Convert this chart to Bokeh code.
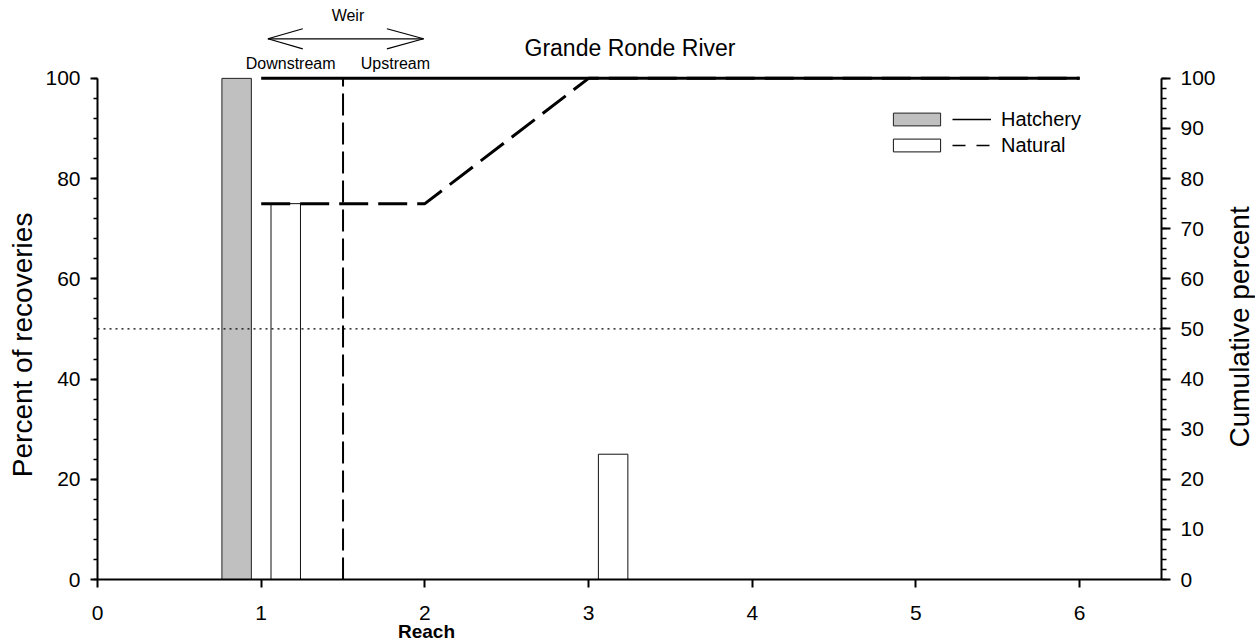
import math
from bokeh.plotting import figure
from bokeh.layouts import row, column
from bokeh.models import (Range1d, LinearAxis, SingleIntervalTicker, Span, Label,
                          Arrow, Legend, LegendItem, ColumnDataSource)
from bokeh.core.properties import value
from bokeh.transform import dodge
from bokeh.embed import file_html
from bokeh.resources import INLINE

# ---- data ----
reach = [1, 2, 3, 4, 5, 6]
hatchery_pct = [100, 0, 0, 0, 0, 0]
natural_pct = [75, 0, 25, 0, 0, 0]
hatchery_cum = [100, 100, 100, 100, 100, 100]
natural_cum = [75, 75, 100, 100, 100, 100]
weir_reach = [1.5]
median_line = 50
series_names = ["Hatchery", "Natural"]
title_text = "Grande Ronde River"
x_label = "Reach"
y_label_left = "Percent of recoveries"
y_label_right = "Cumulative percent"

FONT = "Liberation Sans"
W, H = 1255, 644
LW, RW, BH = 42, 37, 22          # side / bottom label strips
MW, MH = W - LW - RW, H - BH     # main figure size
FRAME_BOTTOM = 580               # canvas y of value 0
PX_PER_UNIT = 5.02

# main figure: frame left=96, right=1163, top=0 (extended range), bottom=580
Y_TOP = 100 + 78 / PX_PER_UNIT

p = figure(width=MW, height=MH, x_range=Range1d(0, 6.5), y_range=Range1d(0, Y_TOP),
           output_backend="svg", toolbar_location=None, title=None,
           min_border_left=96 - LW, min_border_right=(LW + MW) - 1163,
           min_border_top=0, min_border_bottom=MH - FRAME_BOTTOM)
p.extra_y_ranges = {"cum": Range1d(0, Y_TOP)}
p.outline_line_color = None
p.grid.visible = False
p.background_fill_color = "white"
p.border_fill_color = "white"

# ---- bars ----
h_src = ColumnDataSource(dict(x=[r for r, v in zip(reach, hatchery_pct) if v > 0],
                              top=[v for v in hatchery_pct if v > 0]))
n_src = ColumnDataSource(dict(x=[r for r, v in zip(reach, natural_pct) if v > 0],
                              top=[v for v in natural_pct if v > 0]))
bars_h = p.vbar(x=dodge("x", -0.15), top="top", width=0.18, source=h_src,
                fill_color="#c0c0c0", line_color="#222222", line_width=1)
bars_n = p.vbar(x=dodge("x", 0.15), top="top", width=0.18, source=n_src,
                fill_color="white", line_color="#111111", line_width=1)

# ---- reference lines ----
p.add_layout(Span(location=median_line, dimension="width", line_color="black",
                  line_width=1.3, line_dash="2 4"))
p.segment(x0=weir_reach, y0=[0], x1=weir_reach, y1=[100], line_color="black",
          line_width=2, line_dash="22 7")

# ---- cumulative lines ----
p.line(reach, natural_cum, line_color="black", line_width=3, line_dash="29 10",
       y_range_name="cum")
p.line(reach, hatchery_cum, line_color="black", line_width=3, y_range_name="cum")

# legend proxies (no visible data)
nan = float("nan")
leg_h = p.line([nan], [nan], line_color="black", line_width=1.5)
leg_n = p.line([nan], [nan], line_color="black", line_width=1.5, line_dash="13 11")

# ---- axes ----
xa = p.xaxis[0]
xa.ticker = SingleIntervalTicker(interval=1, num_minor_ticks=0)
xa.major_tick_out = 8
xa.major_tick_in = 0
xa.major_label_standoff = 18

ya = p.yaxis[0]
ya.ticker = SingleIntervalTicker(interval=20, num_minor_ticks=5)
ya.bounds = (0, 100)
ya.major_tick_out = 7
ya.major_tick_in = 0
ya.minor_tick_out = 4
ya.minor_tick_in = 0
ya.major_label_standoff = 10

ra = LinearAxis(y_range_name="cum",
                ticker=SingleIntervalTicker(interval=10, num_minor_ticks=5))
ra.bounds = (0, 100)
ra.major_tick_out = 9
ra.major_tick_in = 0
ra.minor_tick_out = 5
ra.minor_tick_in = 0
ra.major_label_standoff = 10
p.add_layout(ra, "right")

for ax in (xa, ya, ra):
    ax.axis_line_color = "black"
    ax.axis_line_width = 2
    ax.major_tick_line_color = "black"
    ax.major_tick_line_width = 2
    ax.minor_tick_line_color = "black"
    ax.minor_tick_line_width = 1.5
    ax.major_label_text_font = FONT
    ax.major_label_text_font_size = "21px"
    ax.major_label_text_color = "black"

# ---- title and weir annotation ----
p.add_layout(Label(x=3.253, y=106, text=title_text, text_align="center",
                   text_baseline="middle", text_font=FONT, text_font_size="23px",
                   text_color="black"))
p.add_layout(Label(x=1.53, y=112.5, text="Weir", text_align="center",
                   text_baseline="middle", text_font=FONT, text_font_size="16px",
                   text_color="black"))
p.add_layout(Label(x=1.18, y=103, text="Downstream", text_align="center",
                   text_baseline="middle", text_font=FONT, text_font_size="16px",
                   text_color="black"))
p.add_layout(Label(x=1.82, y=103, text="Upstream", text_align="center",
                   text_baseline="middle", text_font=FONT, text_font_size="16px",
                   text_color="black"))

ay, ay_hi, ay_lo = 107.9, 109.9, 105.9
xl, xl_h, xr, xr_h = 1.041, 1.254, 1.992, 1.768
for (x0, y0, x1, y1) in [(xl, ay, xr, ay),
                         (xl, ay, xl_h, ay_hi), (xl, ay, xl_h, ay_lo),
                         (xr, ay, xr_h, ay_hi), (xr, ay, xr_h, ay_lo)]:
    p.add_layout(Arrow(x_start=x0, y_start=y0, x_end=x1, y_end=y1, start=None,
                       end=None, line_color="black", line_width=1.2))

# ---- legends ----
leg_bars = Legend(items=[LegendItem(label=" ", renderers=[bars_h]),
                         LegendItem(label=" ", renderers=[bars_n])],
                  location=(790, 426), orientation="vertical",
                  glyph_width=59, glyph_height=16, label_height=16,
                  label_text_font_size="2px", label_text_alpha=0,
                  spacing=10, padding=0, margin=0, label_standoff=0,
                  border_line_color=None, background_fill_alpha=0)
leg_lines = Legend(items=[LegendItem(label=series_names[0], renderers=[leg_h]),
                          LegendItem(label=series_names[1], renderers=[leg_n])],
                   location=(855, 422), orientation="vertical",
                   glyph_width=39, glyph_height=24, label_height=24,
                   label_text_font=FONT, label_text_font_size="20px",
                   label_text_color="black",
                   spacing=2, padding=0, margin=0, label_standoff=10,
                   border_line_color=None, background_fill_alpha=0)
p.add_layout(leg_bars)
p.add_layout(leg_lines)


# ---- label strips (their frames line up with the main frame) ----
def side_strip(w):
    s = figure(width=w, height=MH, x_range=Range1d(0, w), y_range=Range1d(0, Y_TOP),
               output_backend="svg", toolbar_location=None, title=None,
               x_axis_location=None, y_axis_location=None,
               min_border=0, min_border_left=0, min_border_right=0,
               min_border_top=0, min_border_bottom=MH - FRAME_BOTTOM)
    s.outline_line_color = None
    s.grid.visible = False
    s.background_fill_color = "white"
    s.border_fill_color = "white"
    return s


def canvas_to_y(cy):
    return 100 - (cy - 78) / PX_PER_UNIT


p_left = side_strip(LW)
p_left.text(x=[21.5], y=[canvas_to_y(345)], text=[y_label_left], angle=math.pi / 2,
            text_align="center", text_baseline="middle",
            text_font=value(FONT), text_font_size="28px", text_color="black")

p_right = side_strip(RW)
p_right.text(x=[1239.0 - (LW + MW)], y=[canvas_to_y(327)], text=[y_label_right],
             angle=math.pi / 2, text_align="center", text_baseline="middle",
             text_font=value(FONT), text_font_size="28px", text_color="black")

p_bottom = figure(width=W, height=BH, x_range=Range1d(0, W), y_range=Range1d(0, BH),
                  output_backend="svg", toolbar_location=None, title=None,
                  x_axis_location=None, y_axis_location=None,
                  min_border=0, min_border_left=0, min_border_right=0,
                  min_border_top=0, min_border_bottom=0)
p_bottom.outline_line_color = None
p_bottom.grid.visible = False
p_bottom.background_fill_color = "white"
p_bottom.border_fill_color = "white"
p_bottom.text(x=[426], y=[H - 631], text=[x_label], text_align="center",
              text_baseline="middle", text_font=value(FONT),
              text_font_size="19px", text_font_style="bold", text_color="black")

layout = column(row(p_left, p, p_right, spacing=0), p_bottom, spacing=0)

open("out.html", "w").write(file_html(layout, INLINE))
